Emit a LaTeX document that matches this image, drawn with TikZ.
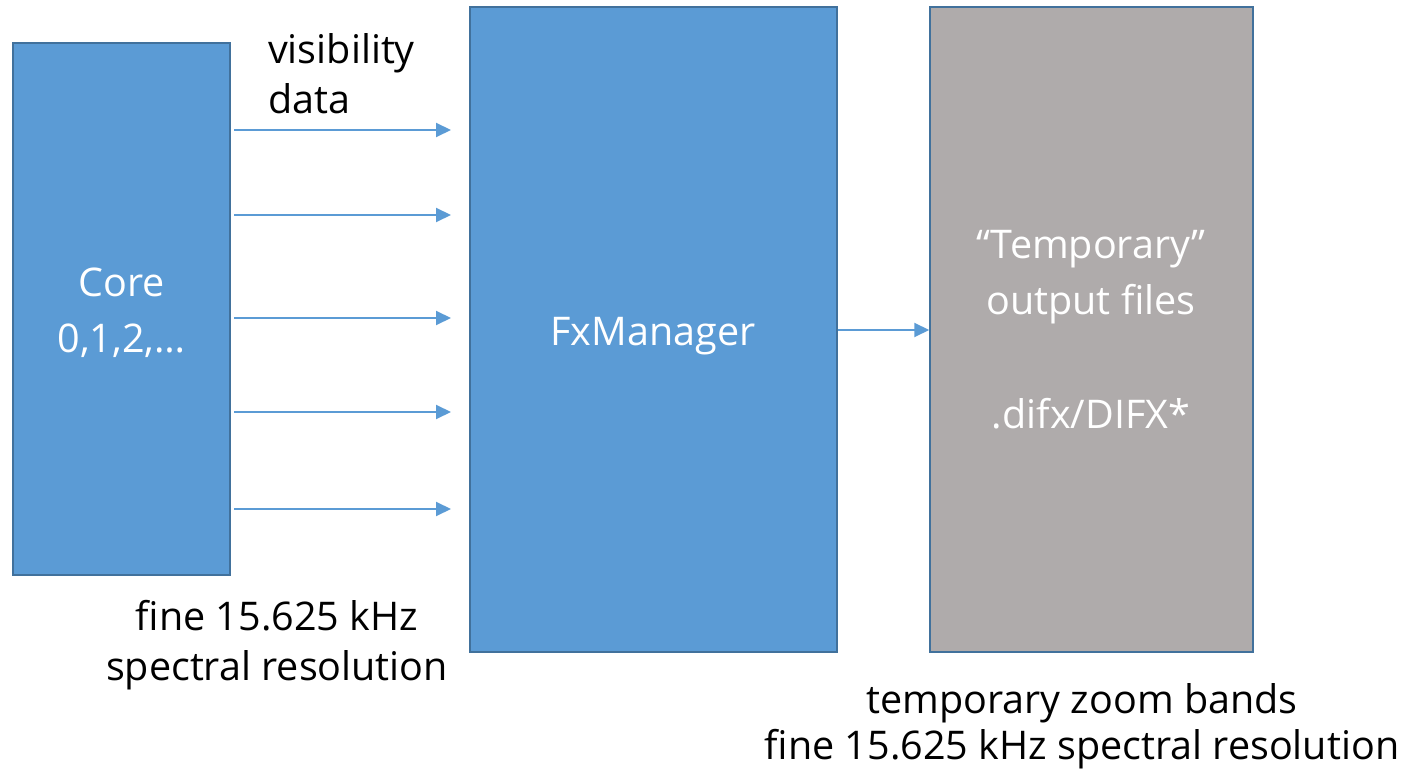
\documentclass[tikz,border=0pt]{standalone}
\usepackage{fontspec}
\setmainfont{Open Sans}
\usetikzlibrary{arrows.meta}
\definecolor{boxblue}{HTML}{5B9BD5}
\definecolor{edgeblue}{HTML}{41719C}
\definecolor{boxgray}{HTML}{AFABAB}
\begin{document}
\begin{tikzpicture}[x=1pt,y=-1pt,
  bluebox/.style={draw=edgeblue,line width=1.5pt,fill=boxblue},
  graybox/.style={draw=edgeblue,line width=1.5pt,fill=boxgray},
  conn/.style={draw=boxblue,line width=2pt,-{Triangle[length=15pt,width=14pt]}},
  lbl/.style={font=\fontsize{39.5}{50}\selectfont,align=center,inner sep=0pt},
  wlbl/.style={lbl,text=white,font=\fontsize{39.5}{56}\selectfont}]
\useasboundingbox (0,0) rectangle (1409,775);
\node[bluebox,minimum width=217pt,minimum height=532pt,inner sep=0pt] (core) at (121.5,309) {};
\node[bluebox,minimum width=367pt,minimum height=645pt,inner sep=0pt] (fx) at (653.5,329.5) {};
\node[graybox,minimum width=323pt,minimum height=645pt,inner sep=0pt] (tmp) at (1091.5,329.5) {};
\node[wlbl] (coretxt) at (121.5,313) {Core\\0,1,2,…};
\node[wlbl] (fxtxt) at (653,336) {FxManager};
\node[wlbl] (tmptxt) at (1091,277) {“Temporary”\\output files};
\node[wlbl] (tmpext) at (1091,414) {.difx/DIFX*};
\node[lbl,align=left,anchor=west] (vis) at (268,74) {visibility\\data};
\node[lbl] (fine1) at (277,645) {fine 15.625 kHz\\spectral resolution};
\node[lbl,font=\fontsize{39.5}{46}\selectfont] (fine2) at (1082,726) {temporary zoom bands\\fine 15.625 kHz spectral resolution};
\foreach \y/\n in {130/a,215/b,318/c,412/d,509/e}{
  \coordinate (s\n) at (234,\y);
  \coordinate (t\n) at (451,\y);
  \draw[conn] (s\n) -- (t\n);
}
\draw[conn] (fx.east |- 0,330) -- (tmp.west |- 0,330);
\end{tikzpicture}
\end{document}
